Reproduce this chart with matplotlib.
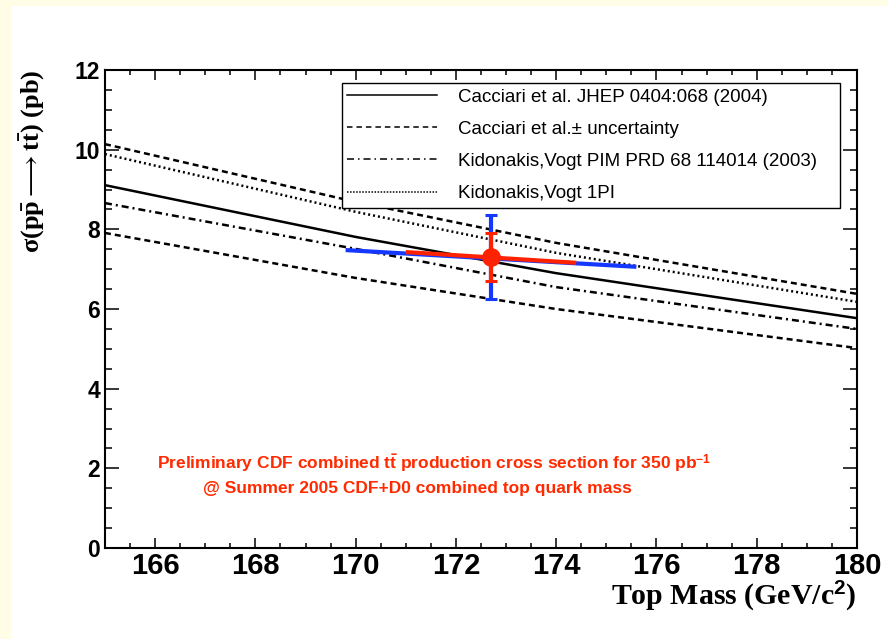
import matplotlib
matplotlib.use("Agg")
import matplotlib.pyplot as plt
from matplotlib.lines import Line2D
from matplotlib.patches import Rectangle
from matplotlib.ticker import MultipleLocator

plt.rcParams.update({
    "font.family": ["Liberation Sans", "DejaVu Sans"],
    "mathtext.fontset": "custom",
    "mathtext.rm": "Liberation Serif:bold",
    "mathtext.it": "Liberation Serif:bold",
    "mathtext.bf": "Liberation Serif:bold",
    "mathtext.sf": "Liberation Sans:bold",
    "mathtext.fallback": "stix",
    "axes.linewidth": 1.5,
})

# theory curves: sigma(ttbar) in pb vs top mass
mass = [165, 170, 174, 180]
cacciari = [9.11, 7.81, 6.90, 5.77]
cacciari_hi = [10.14, 8.69, 7.66, 6.38]
cacciari_lo = [7.91, 6.78, 6.00, 5.02]
kv_pim = [8.66, 7.51, 6.55, 5.50]
kv_1pi = [9.89, 8.44, 7.41, 6.18]

# combined measurement
mtop = 172.7
xsec = 7.3
xsec_err_tot = 1.05
xsec_err_stat = 0.6
# mass uncertainty bands drawn along the xsec(m) dependence
band_tot_m = [169.8, 175.6]
band_tot_s = [7.48, 7.06]
band_stat_m = [171.0, 174.4]
band_stat_s = [7.43, 7.16]

legend_labels = ["Cacciari et al. JHEP 0404:068 (2004)",
                 "Cacciari et al.\u00b1 uncertainty",
                 "Kidonakis,Vogt PIM PRD 68 114014 (2003)",
                 "Kidonakis,Vogt 1PI"]

RED = "#FF2200"
BLUE = "#1438FF"

fig = plt.figure(figsize=(8.88, 6.39), dpi=100, facecolor="#FFFDE6")
fig.patches.append(Rectangle((11 / 888, 0), 1, 633 / 639, transform=fig.transFigure,
                             fc="white", ec="none", zorder=-1))
ax = fig.add_axes([0.1182, 0.1424, 0.8469, 0.748])

lw = 1.8
ax.plot(mass, cacciari, color="k", lw=lw)
ax.plot(mass, cacciari_hi, color="k", lw=lw, dashes=(2.4, 1.6))
ax.plot(mass, cacciari_lo, color="k", lw=lw, dashes=(2.4, 1.6))
ax.plot(mass, kv_pim, color="k", lw=lw, dashes=(2.8, 1.6, 0.8, 1.6))
ax.plot(mass, kv_1pi, color="k", lw=lw, dashes=(0.8, 1.2))

# measurement point
ax.plot(band_tot_m, band_tot_s, color=BLUE, lw=3, solid_capstyle="butt", zorder=3)
ax.plot(band_stat_m, band_stat_s, color=RED, lw=3, solid_capstyle="butt", zorder=4)
ax.errorbar([mtop], [xsec], yerr=xsec_err_tot, fmt="none", ecolor=BLUE, elinewidth=3,
            capsize=4, capthick=2.2, zorder=5)
ax.errorbar([mtop], [xsec], yerr=xsec_err_stat, fmt="o", color=RED, ms=12.5, elinewidth=3,
            capsize=4, capthick=2.2, zorder=6)

ax.set_xlim(165, 180)
ax.set_ylim(0, 12)
ax.xaxis.set_major_locator(MultipleLocator(2))
ax.xaxis.set_minor_locator(MultipleLocator(0.5))
ax.yaxis.set_major_locator(MultipleLocator(2))
ax.yaxis.set_minor_locator(MultipleLocator(0.5))
ax.tick_params(which="both", direction="in", top=True, right=True, width=1.1)
ax.tick_params(axis="x", which="major", length=7.2, pad=3, labelsize=21)
ax.tick_params(axis="x", which="minor", length=3.6)
ax.tick_params(axis="y", which="major", length=10, pad=3.6, labelsize=16.5)
ax.tick_params(axis="y", which="minor", length=5)
for lab in ax.get_xticklabels() + ax.get_yticklabels():
    lab.set_fontweight("bold")

ax.set_xlabel("Top Mass (GeV/c$^{\\mathsf{2}}$)", family="Liberation Serif",
              fontweight="bold", fontsize=21.5, ha="right", va="baseline")
ax.xaxis.set_label_coords(1.0, -0.118)
ax.set_ylabel("$\\sigma(p\\bar{p}\\longrightarrow t\\bar{t})$ (pb)", family="Liberation Serif",
              fontweight="bold", fontsize=19, ha="right", va="center")
ax.yaxis.set_label_coords(-0.0957, 1.0)

handles = [Line2D([], [], color="k", lw=1.1),
           Line2D([], [], color="k", lw=1.1, dashes=(3.6, 2.6)),
           Line2D([], [], color="k", lw=1.1, dashes=(4.6, 2.6, 1, 2.6)),
           Line2D([], [], color="k", lw=1.1, dashes=(1, 1))]
leg = ax.legend(handles, legend_labels, loc="upper left",
                bbox_to_anchor=(0.315, 0.973, 0.662, 0.0), mode="expand",
                borderaxespad=0, fontsize=13.5, handlelength=4.8, handletextpad=1.1,
                labelspacing=0.8, borderpad=0.3, fancybox=False, framealpha=1)
leg.get_frame().set_edgecolor("k")
leg.get_frame().set_linewidth(1.0)

ax.text(0.0691, 0.1653,
        "Preliminary CDF combined $\\mathsf{t\\bar{t}}$ production cross section for 350 pb$^{\\mathsf{-1}}$",
        transform=ax.transAxes, color="#FF2A00", fontsize=12.5, fontweight="bold",
        ha="left", va="baseline")
ax.text(0.1303, 0.1151, "@ Summer 2005 CDF+D0 combined top quark mass",
        transform=ax.transAxes, color="#FF2A00", fontsize=12.5, fontweight="bold",
        ha="left", va="baseline")

fig.savefig("out.png", dpi=100, facecolor=fig.get_facecolor())
